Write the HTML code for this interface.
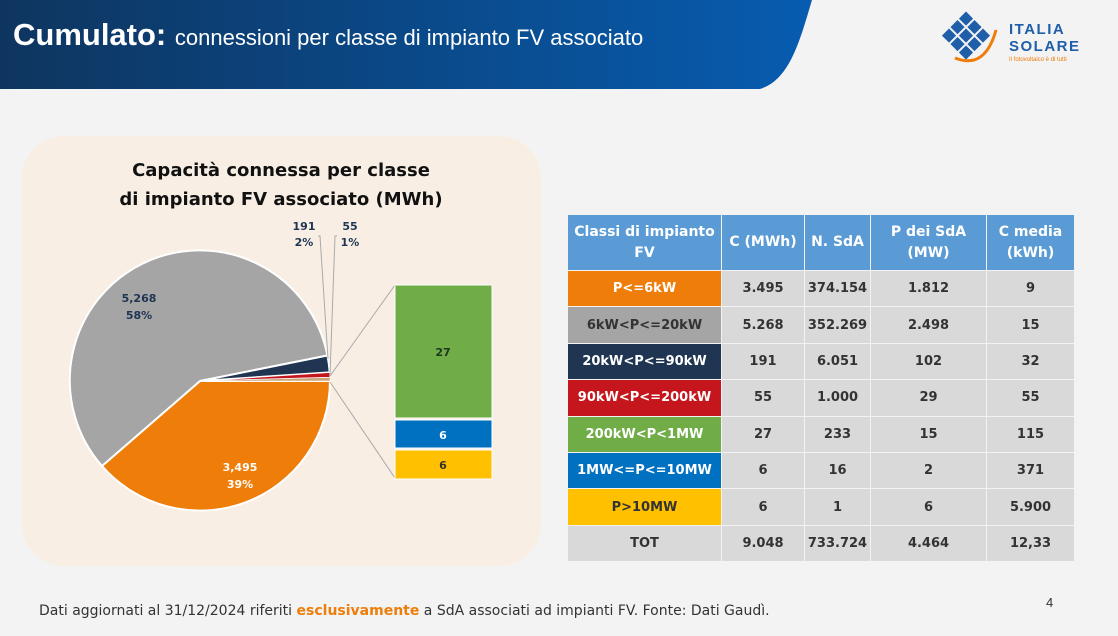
<!DOCTYPE html>
<html><head><meta charset="utf-8"><style>
body{margin:0;width:1118px;height:636px;background:#f3f3f3;font-family:"Liberation Sans",sans-serif;position:relative;overflow:hidden}
.t{position:absolute}
table{position:absolute;left:567px;top:214px;border-collapse:collapse;font-family:"DejaVu Sans","Liberation Sans",sans-serif;font-weight:bold;font-size:13px;color:#333}
td{border:1px solid #f3f3f3;text-align:center;padding:0;background:#d9d9d9;height:35.4px}
tr.h td{background:#5b9bd5;color:#fff;height:55px;font-size:14px;line-height:21px}
</style></head><body>
<svg class="t" style="left:0;top:0" width="1118" height="636">
<defs><linearGradient id="g" x1="0" x2="1"><stop offset="0" stop-color="#0e355f"/><stop offset="1" stop-color="#075cb0"/></linearGradient></defs>
<path d="M0 0 H812 C800 40 790 80 760 89 H0 Z" fill="url(#g)"/>
<rect x="22" y="136" width="519" height="430" rx="42" fill="#f8eee4"/>
<g stroke="#fff" stroke-width="2">
<path d="M200 381 L330 381 A130 130 0 0 1 102 466 Z" fill="#ee7d0a"/>
<path d="M200 381 L102 466 A130 130 0 1 1 327.4 355.5 Z" fill="#a5a5a5"/>
<path d="M200 381 L327.4 355.5 A130 130 0 0 1 329.7 372.4 Z" fill="#1f3552"/>
<path d="M200 381 L329.7 372.4 A130 130 0 0 1 330 377.4 Z" fill="#c5161d" stroke-width="1"/>
<path d="M200 381 L330 377.4 A130 130 0 0 1 330 381 Z" fill="#c9a57a" stroke-width="0.5"/>
</g>
<g stroke="#aaa" stroke-width="1" fill="none">
<line x1="330" y1="376" x2="395" y2="285"/><line x1="330" y1="382" x2="395" y2="478"/>
<polyline points="318,236 320,236 328,359"/><polyline points="337,236 335,236 330,375"/>
</g>
<rect x="395" y="285" width="97" height="133" fill="#70ad47" stroke="#fff"/>
<rect x="395" y="420" width="97" height="28" fill="#0070c0" stroke="#fff"/>
<rect x="395" y="450" width="97" height="29" fill="#ffc000" stroke="#fff"/>
<g font-family="DejaVu Sans,Liberation Sans,sans-serif" font-weight="bold" font-size="11" text-anchor="middle" fill="#1f3552">
<text x="139" y="302">5,268</text><text x="139" y="319">58%</text>
<text x="240" y="471" fill="#fff">3,495</text><text x="240" y="488" fill="#fff">39%</text>
<text x="304" y="230">191</text><text x="304" y="246">2%</text>
<text x="350" y="230">55</text><text x="350" y="246">1%</text>
<text x="443" y="356" fill="#1f3522">27</text><text x="443" y="439" fill="#fff">6</text><text x="443" y="469" fill="#333">6</text>
</g>
<g font-family="DejaVu Sans,Liberation Sans,sans-serif" font-weight="bold" font-size="18" text-anchor="middle" fill="#111">
<text x="281" y="176">Capacità connessa per classe</text><text x="281" y="205">di impianto FV associato (MWh)</text>
</g>
<g transform="translate(966,37) rotate(45)"><g fill="#1f5ea8">
<rect x="-18" y="-18" width="10" height="10"/><rect x="-6" y="-18" width="10" height="10"/><rect x="6" y="-18" width="10" height="10"/>
<rect x="-18" y="-6" width="10" height="10"/><rect x="-6" y="-6" width="10" height="10"/><rect x="6" y="-6" width="10" height="10"/>
<rect x="-18" y="6" width="10" height="10"/><rect x="-6" y="6" width="10" height="10"/><rect x="6" y="6" width="10" height="10"/></g></g>
<path d="M955 58 Q985 70 996 30" stroke="#ee7d0a" stroke-width="3" fill="none"/>
</svg>
<div class="t" style="left:13px;top:17px;color:#fff;font-size:31px;font-weight:bold">Cumulato: <span style="font-weight:normal;font-size:22px">connessioni per classe di impianto FV associato</span></div>
<div class="t" style="left:1009px;top:21px;color:#1f5ea8;font-weight:bold;font-size:15px;line-height:17px;letter-spacing:1.5px">ITALIA<br>SOLARE</div>
<div class="t" style="left:1009px;top:57px;color:#ee7d0a;font-size:6px">Il fotovoltaico è di tutti</div>
<table>
<tr class="h"><td style="width:153px">Classi di impianto<br>FV</td><td style="width:82px">C (MWh)</td><td style="width:65px">N. SdA</td><td style="width:115px">P dei SdA<br>(MW)</td><td style="width:87px">C media<br>(kWh)</td></tr>
<tr><td style="background:#ee7d0a;color:#fff">P&lt;=6kW</td><td>3.495</td><td>374.154</td><td>1.812</td><td>9</td></tr>
<tr><td style="background:#a5a5a5;color:#333">6kW&lt;P&lt;=20kW</td><td>5.268</td><td>352.269</td><td>2.498</td><td>15</td></tr>
<tr><td style="background:#1f3552;color:#fff">20kW&lt;P&lt;=90kW</td><td>191</td><td>6.051</td><td>102</td><td>32</td></tr>
<tr><td style="background:#c5161d;color:#fff">90kW&lt;P&lt;=200kW</td><td>55</td><td>1.000</td><td>29</td><td>55</td></tr>
<tr><td style="background:#70ad47;color:#fff">200kW&lt;P&lt;1MW</td><td>27</td><td>233</td><td>15</td><td>115</td></tr>
<tr><td style="background:#0070c0;color:#fff">1MW&lt;=P&lt;=10MW</td><td>6</td><td>16</td><td>2</td><td>371</td></tr>
<tr><td style="background:#ffc000;color:#333">P&gt;10MW</td><td>6</td><td>1</td><td>6</td><td>5.900</td></tr>
<tr><td>TOT</td><td>9.048</td><td>733.724</td><td>4.464</td><td>12,33</td></tr>
</table>
<div class="t" style="left:39px;top:603px;font-family:'DejaVu Sans',sans-serif;font-size:14px;color:#333">Dati aggiornati al 31/12/2024 riferiti <b style="color:#ee7d0a">esclusivamente</b> a SdA associati ad impianti FV. Fonte: Dati Gaudì.</div>
<div class="t" style="left:1046px;top:595px;font-size:13px;color:#333">4</div>
</body></html>
